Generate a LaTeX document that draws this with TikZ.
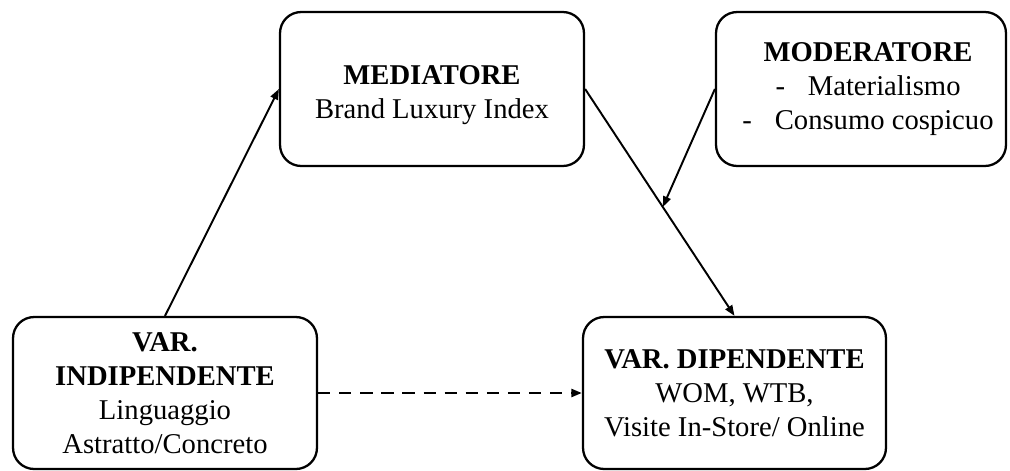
\documentclass[tikz,border=0pt]{standalone}
\usepackage{fontspec}
\setmainfont{Liberation Serif}
\usetikzlibrary{arrows.meta}

\begin{document}
\begin{tikzpicture}[x=0.02cm,y=-0.02cm,
    box/.style={draw,rounded corners=12pt,line width=1.3pt,align=center,
        inner sep=0pt,font=\fontsize{16.3}{19.4}\selectfont}]
    \useasboundingbox (0,0) rectangle (1010,470);
    \draw
    (432,89) node[box,minimum width=6.08cm,minimum height=3.08cm,text height=37pt](med){\textbf{MEDIATORE}\\Brand Luxury Index}
    (861,89) node[box,minimum width=5.8cm,minimum height=3.08cm](mod){\hspace{8pt}\textbf{MODERATORE}\\\hspace{8pt}-\hspace{13pt}Materialismo\\\hspace{8pt}-\hspace{13pt}Consumo cospicuo}
    (165,393) node[box,minimum width=6.08cm,minimum height=3.04cm](ind){\textbf{VAR.}\\\textbf{INDIPENDENTE}\\Linguaggio\\Astratto/Concreto}
    (734.5,393) node[box,minimum width=6.06cm,minimum height=3.04cm](dip){\textbf{VAR. DIPENDENTE}\\WOM, WTB,\\Visite In-Store/ Online}
    ;
    \path (med.east) -- coordinate[pos=0.52] (cross) (dip.north);
    \begin{scope}[
        every edge/.style={-{Triangle[length=6pt,width=4.5pt]},draw=black,line width=1.1pt}]
        \path (ind.north) edge (med.west);
        \path (med.east) edge (dip.north);
        \path (mod.west) edge (cross);
        \path (ind.east) edge[dashed,dash pattern=on 7pt off 5pt,line width=1.4pt] (dip.west);
    \end{scope}
\end{tikzpicture}
\end{document}
